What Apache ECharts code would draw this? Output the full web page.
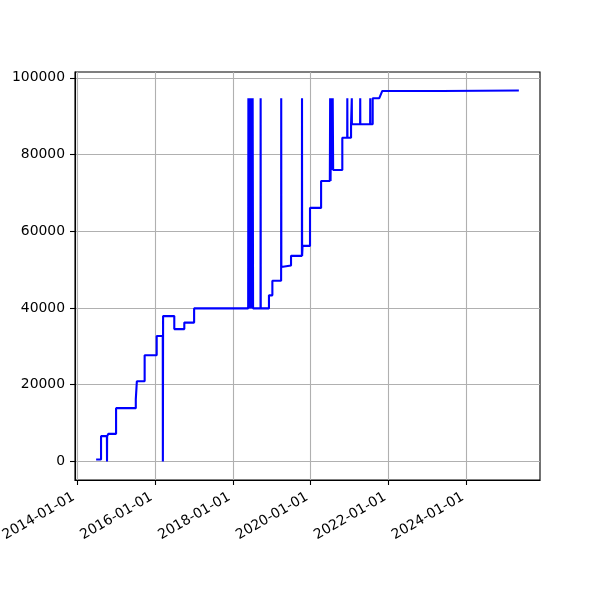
<!DOCTYPE html>
<html><head><meta charset="utf-8">
<script src="https://cdn.jsdelivr.net/npm/echarts@6/dist/echarts.min.js"></script>
<style>html,body{margin:0;padding:0;background:#fff}#c{width:600px;height:600px}</style>
</head><body><div id="c"></div>
<script>
const dates = [
 '2014-06-29','2014-08-14','2014-08-14','2014-10-08','2014-10-09','2014-10-10','2014-10-22','2014-10-22',
 '2015-01-02','2015-01-02','2015-07-06','2015-07-06','2015-07-16','2015-07-16','2015-09-27','2015-09-27',
 '2016-01-18','2016-01-18','2016-03-15','2016-03-16','2016-03-18','2016-07-01','2016-07-01','2016-10-03',
 '2016-10-03','2017-01-03','2017-01-03','2018-05-25',
 '2018-05-27','2018-05-31','2018-06-04','2018-06-08','2018-06-12','2018-06-16','2018-06-20','2018-06-24',
 '2018-06-28','2018-07-02','2018-07-06','2018-07-10',
 '2018-09-18','2018-09-19','2018-09-20',
 '2018-12-06','2018-12-06','2019-01-07','2019-01-07',
 '2019-03-30','2019-03-31','2019-04-01','2019-04-16','2019-04-16','2019-07-01','2019-07-01',
 '2019-10-11','2019-10-12','2019-10-13','2019-10-17','2019-10-17','2019-12-26','2019-12-26',
 '2020-04-08','2020-04-08',
 '2020-06-29','2020-07-02','2020-07-06','2020-07-10','2020-07-14','2020-07-18','2020-07-22','2020-07-26','2020-07-30',
 '2020-10-24','2020-10-24','2020-12-09','2020-12-10','2020-12-11',
 '2021-01-14','2021-01-14','2021-01-20','2021-01-21','2021-01-22',
 '2021-04-09','2021-04-10','2021-04-11','2021-07-12','2021-07-13','2021-07-14',
 '2021-08-05','2021-08-05','2021-10-06','2021-11-03',
 '2023-05-12','2023-05-13','2025-05-07'
];
const values = [
 500,500,6600,6600,0,6600,6600,7200,
 7200,13900,13900,16200,16200,20900,20900,27700,
 27700,32700,32700,0,37900,37900,34500,34500,
 36200,36200,39900,39900,
 94700,39900,94700,39900,94700,39900,94700,39900,
 94700,39900,94700,39900,
 39900,94700,39900,
 39900,43300,43300,47100,
 47100,94700,50700,50700,51100,51100,53600,
 53600,94700,53600,53600,56200,56200,66100,
 66100,73100,
 73100,94700,73100,94700,76000,94700,76000,94700,76000,
 76000,84400,84400,94700,84400,
 84400,87900,87900,94700,87900,
 87900,94700,87900,87900,94700,87900,
 87900,94700,94700,96600,
 96600,96700,96700
];
const xTickLabels = ['2014-01-01','2016-01-01','2018-01-01','2020-01-01','2022-01-01','2024-01-01'];
const yTicks = [0,20000,40000,60000,80000,100000];

function ts(s){const p=s.split('-').map(Number);return Date.UTC(p[0],p[1]-1,p[2]);}
function fmt(v){const d=new Date(v);const p=n=>String(n).padStart(2,'0');return d.getUTCFullYear()+'-'+p(d.getUTCMonth()+1)+'-'+p(d.getUTCDate());}

const pts = dates.map((d,i)=>[ts(d),values[i]]);
const t0 = pts[0][0], t1 = pts[pts.length-1][0];
const vmin = Math.min(...values), vmax = Math.max(...values);
const xPad = 0.05*(t1-t0), yPad = 0.05*(vmax-vmin);
const xTicks = xTickLabels.map(ts);

const chart = echarts.init(document.getElementById('c'), null, {renderer:'canvas'});
const font = 'DejaVu Sans';
chart.setOption({
  animation:false,
  backgroundColor:'#fff',
  grid:{left:75,right:60,top:72,bottom:120,containLabel:false,outerBoundsMode:'none',show:true,borderColor:'#000',borderWidth:1.1,backgroundColor:'transparent'},
  xAxis:{
    type:'value', min:t0-xPad, max:t1+xPad,
    axisLine:{show:true,onZero:false,lineStyle:{color:'#000',width:1.1}},
    axisTick:{show:true,inside:false,length:5,lineStyle:{color:'#000',width:1.1},customValues:xTicks},
    axisLabel:{customValues:xTicks,rotate:30,margin:14,padding:[0,4,0,0],fontFamily:font,fontSize:13.9,color:'#000',formatter:v=>fmt(v)},
    splitLine:{show:true,lineStyle:{color:'#b0b0b0',width:1.1}}
  },
  yAxis:{
    type:'value', min:vmin-yPad, max:vmax+yPad,
    axisLine:{show:true,onZero:false,lineStyle:{color:'#000',width:1.1}},
    axisTick:{show:true,inside:false,length:5,lineStyle:{color:'#000',width:1.1},customValues:yTicks},
    axisLabel:{customValues:yTicks,margin:10,fontFamily:font,fontSize:13.9,color:'#000',formatter:v=>String(v)},
    splitLine:{show:true,lineStyle:{color:'#b0b0b0',width:1.1}}
  },
  series:[{
    type:'line', data:pts, showSymbol:false, symbol:'none',
    lineStyle:{color:'#0000ff',width:2.1}, clip:true
  }]
});
</script>
</body></html>
